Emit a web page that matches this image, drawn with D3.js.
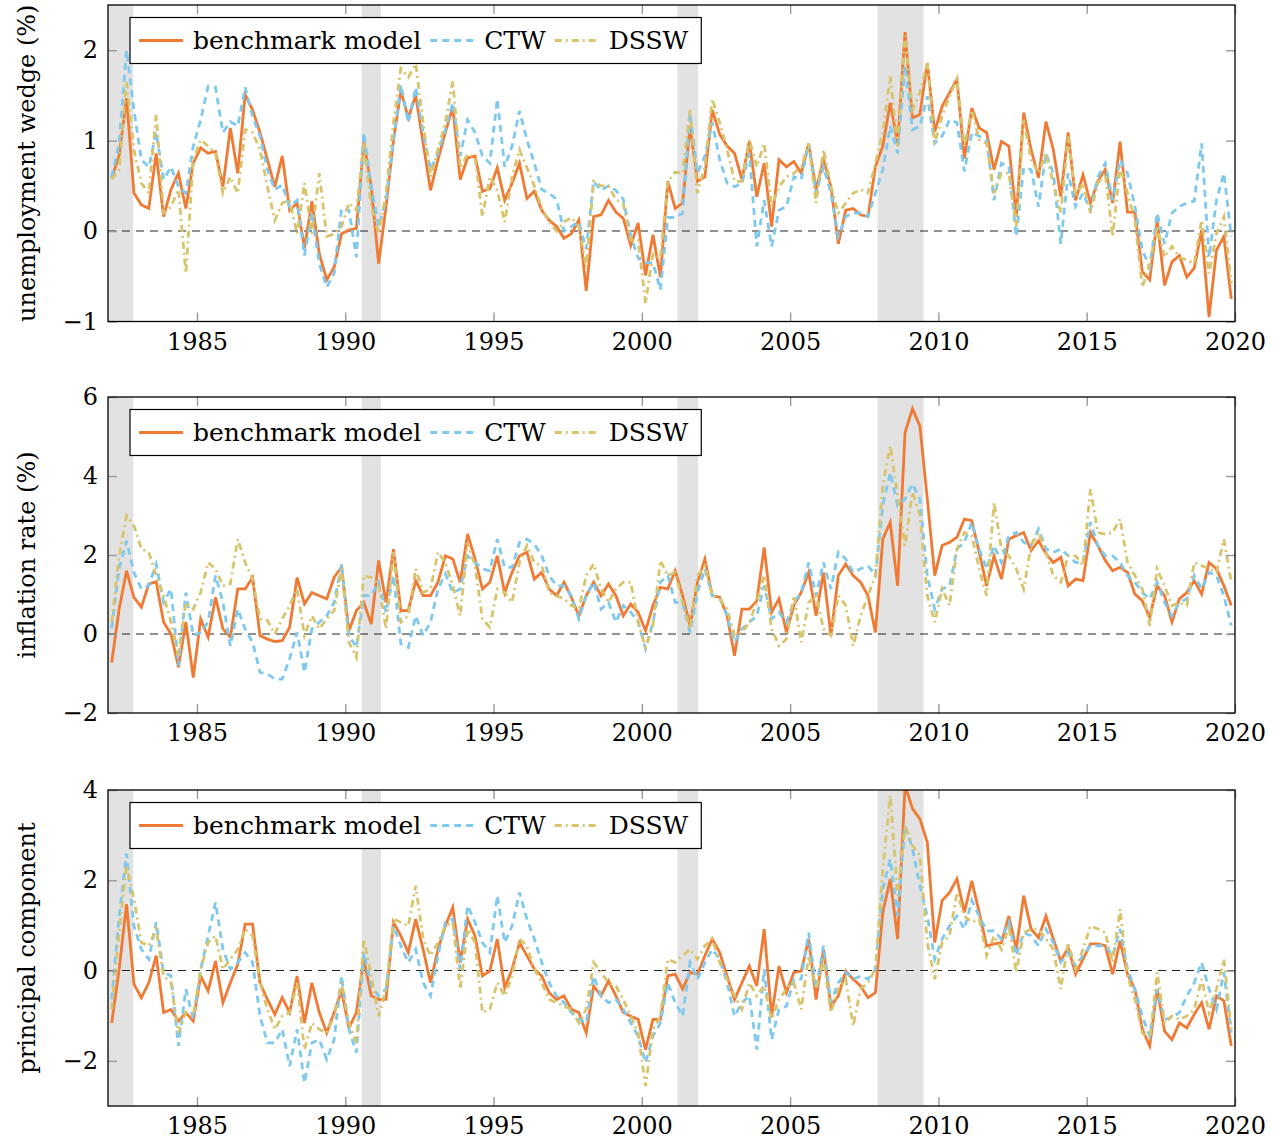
<!DOCTYPE html>
<meta charset="utf-8">
<script src="https://cdn.jsdelivr.net/npm/d3@7"></script>
<style>
  body { margin: 0; background: #fff; }
</style>
<svg></svg>
<script>
    // quarterly observations, 1982Q1 .. 2019Q4 (plotted at mid-quarter)
    var quarters = d3.range(152).map(i => 1982 + i / 4 + 0.125);
    var yearTicks = [1985, 1990, 1995, 2000, 2005, 2010, 2015, 2020];
    var recessions = [[1981.5, 1982.85], [1990.55, 1991.2], [2001.2, 2001.9], [2007.95, 2009.5]];
    var seriesNames = ['benchmark model', 'CTW', 'DSSW'];

    // unemployment wedge (%)
    var bench1 = [0.59, 0.83, 1.47, 0.42, 0.29, 0.25, 0.86, 0.16, 0.46, 0.64,
        0.25, 0.75, 0.92, 0.86, 0.88, 0.49, 1.14, 0.64, 1.51, 1.34,
        1.09, 0.79, 0.49, 0.83, 0.23, 0.31, -0.19, 0.33, -0.25, -0.54,
        -0.40, -0.03, 0.01, 0.03, 0.99, 0.49, -0.36, 0.27, 1.0, 1.55,
        1.25, 1.5, 0.97, 0.45, 0.79, 1.09, 1.37, 0.57, 0.81, 0.83,
        0.44, 0.47, 0.70, 0.34, 0.53, 0.75, 0.36, 0.44, 0.23, 0.12,
        0.05, -0.08, -0.03, 0.12, -0.66, 0.16, 0.18, 0.34, 0.21, 0.14,
        -0.16, 0.09, -0.49, -0.04, -0.51, 0.55, 0.25, 0.31, 1.16, 0.55,
        0.60, 1.34, 1.07, 0.94, 0.86, 0.57, 0.99, 0.38, 0.75, 0.05,
        0.79, 0.71, 0.77, 0.64, 0.97, 0.46, 0.79, 0.49, -0.14, 0.23,
        0.25, 0.18, 0.16, 0.71, 0.94, 1.42, 0.97, 2.2, 1.25, 1.29,
        1.86, 1.10, 1.38, 1.53, 1.68, 0.80, 1.36, 1.14, 1.09, 0.68,
        0.99, 0.94, 0.16, 1.31, 0.90, 0.59, 1.21, 0.90, 0.38, 1.09,
        0.34, 0.62, 0.31, 0.55, 0.68, 0.31, 0.99, 0.21, 0.21, -0.45,
        -0.54, 0.12, -0.60, -0.34, -0.27, -0.51, -0.41, 0.01, -0.95, -0.21, -0.06, -0.75];
    var ctw1 = [0.6, 0.97, 2.0, 1.34, 0.79, 0.71, 1.09, 0.57, 0.71, 0.49,
        0.42, 0.94, 1.23, 1.6, 1.59, 1.09, 1.21, 1.16, 1.59, 1.27,
        1.05, 0.68, 0.46, 0.51, 0.27, 0.34, -0.27, 0.2, -0.36, -0.62,
        -0.47, 0.25, 0.23, -0.29, 1.09, 0.49, 0.05, 0.34, 1.0, 1.62,
        1.2, 1.59, 1.09, 0.68, 0.86, 1.12, 1.42, 0.83, 1.23, 1.09,
        0.83, 0.75, 1.46, 0.71, 0.94, 1.33, 1.01, 0.75, 0.46, 0.42,
        0.35, 0.0, 0.05, 0.1, -0.2, 0.55, 0.45, 0.5, 0.45, 0.35,
        -0.05, -0.3, -0.35, -0.35, -0.65, 0.15, 0.15, 0.2, 1.31, 0.64,
        0.83, 1.2, 0.79, 0.53, 0.49, 0.53, 0.86, -0.17, 0.34, -0.17,
        0.23, 0.27, 0.6, 0.57, 0.97, 0.42, 0.71, 0.42, -0.06, 0.16,
        0.2, 0.2, 0.16, 0.42, 0.68, 1.16, 0.86, 1.83, 1.12, 1.16,
        1.49, 0.97, 1.05, 1.23, 1.2, 0.66, 1.09, 1.05, 1.01, 0.34,
        0.75, 0.71, -0.06, 0.7, 0.68, 0.27, 0.86, 0.64, -0.14, 0.64,
        0.27, 0.42, 0.23, 0.6, 0.75, 0.34, 0.79, 0.64, 0.27, -0.21,
        -0.4, 0.2, -0.14, 0.2, 0.27, 0.31, 0.33, 0.97, -0.29, 0.34, 0.64, -0.06];
    var dssw1 = [0.57, 0.68, 1.66, 0.9, 0.53, 0.42, 1.29, 0.2, 0.27, 0.46,
        -0.47, 0.79, 1.01, 0.94, 0.86, 0.42, 0.6, 0.42, 1.12, 1.09,
        0.9, 0.49, 0.12, 0.31, 0.34, -0.03, 0.53, -0.03, 0.64, -0.06,
        -0.03, 0.05, 0.31, 0.23, 0.97, 0.27, -0.03, 0.42, 1.2, 1.8,
        1.7, 1.85, 1.2, 0.6, 0.9, 1.2, 1.66, 0.7, 0.85, 0.82,
        0.16, 0.6, 0.45, 0.1, 0.6, 0.9, 0.7, 0.5, 0.25, 0.1,
        0.0, 0.1, 0.15, 0.05, -0.4, 0.55, 0.5, 0.5, 0.35, 0.3,
        -0.1, -0.1, -0.8, -0.25, -0.3, 0.55, 0.65, 0.64, 1.34, 0.42,
        0.71, 1.46, 1.2, 0.9, 0.55, 0.55, 1.01, 0.71, 0.97, 0.27,
        0.49, 0.6, 0.64, 0.71, 0.97, 0.31, 0.9, 0.49, 0.2, 0.31,
        0.42, 0.46, 0.42, 0.75, 1.09, 1.71, 0.94, 2.16, 1.34, 1.53,
        1.86, 0.97, 1.27, 1.49, 1.68, 0.94, 1.34, 1.01, 0.97, 0.42,
        0.64, 0.64, 0.05, 1.23, 0.79, 0.64, 0.86, 0.53, 0.2, 1.05,
        0.38, 0.53, 0.2, 0.53, 0.64, -0.06, 0.71, 0.42, 0.12, -0.62,
        -0.36, 0.05, -0.29, -0.17, -0.29, -0.32, -0.36, 0.12, -0.47, -0.03, 0.16, -0.58];

    // inflation rate (%)
    var bench2 = [-0.72, 0.63, 1.6, 0.93, 0.68, 1.27, 1.32, 0.3, 0.0, -0.84,
        0.3, -1.1, 0.38, -0.08, 0.93, 0.13, -0.08, 1.14, 1.14, 1.43,
        -0.04, -0.13, -0.19, -0.17, 0.17, 1.43, 0.76, 1.05, 0.97, 0.89,
        1.43, 1.69, 0.08, 0.59, 0.8, 0.25, 1.86, 0.8, 2.15, 0.59,
        0.59, 1.35, 0.97, 0.97, 1.31, 1.98, 1.9, 1.31, 2.53, 1.9,
        1.14, 1.31, 1.98, 1.05, 1.56, 1.98, 2.07, 1.39, 1.56, 1.14,
        0.97, 1.31, 0.93, 0.46, 0.97, 1.31, 0.97, 1.27, 0.97, 0.46,
        0.76, 0.55, 0.08, 0.72, 1.18, 1.14, 1.6, 0.97, 0.21, 1.31,
        1.9, 0.97, 0.93, 0.46, -0.55, 0.63, 0.63, 0.84, 2.19, 0.55,
        0.89, 0.04, 0.72, 1.05, 1.56, 0.46, 1.56, -0.04, 1.48, 1.77,
        1.48, 1.31, 0.97, 0.04, 2.4, 2.83, 1.22, 5.1, 5.7, 5.27,
        3.42, 1.48, 2.24, 2.32, 2.45, 2.91, 2.87, 2.07, 1.22, 1.98,
        1.39, 2.4, 2.49, 2.57, 2.11, 2.36, 2.03, 1.81, 1.94, 1.22,
        1.39, 1.35, 2.57, 2.24, 1.86, 1.6, 1.69, 1.56, 1.01, 0.84,
        0.42, 1.22, 0.97, 0.3, 0.89, 1.05, 1.35, 1.01, 1.81, 1.65, 1.22, 0.72];
    var ctw2 = [0.15, 1.65, 2.36, 1.56, 1.14, 1.22, 1.77, 0.8, 1.14, -0.8,
        1.05, -0.04, 0.04, 0.3, 1.48, 0.8, -0.3, 0.63, 0.13, -0.21,
        -0.97, -1.01, -1.14, -1.14, -0.63, 0.04, -0.97, 0.13, 0.3, 0.46,
        0.8, 1.77, -0.04, -0.34, 0.97, 0.97, 1.31, 0.55, 1.48, -0.25,
        -0.34, 0.46, -0.04, 0.3, 1.14, 1.52, 1.05, 1.14, 1.98, 1.81,
        1.65, 1.6, 2.4, 1.69, 1.69, 2.32, 2.4, 2.28, 1.98, 1.48,
        1.22, 1.22, 0.97, 0.38, 0.97, 1.31, 0.63, 0.8, 0.3, 0.72,
        0.55, 0.3, -0.38, 0.3, 1.31, 1.48, 0.8, 0.8, 0.04, 1.05,
        1.65, 0.97, 0.93, 0.46, -0.21, 0.13, 0.3, 0.46, 1.22, 0.38,
        0.55, 0.3, 0.8, 1.05, 1.81, 0.97, 1.81, 1.14, 2.07, 1.9,
        1.56, 1.65, 1.73, 1.48, 3.25, 4.09, 3.25, 3.42, 3.8, 3.42,
        1.48, 0.63, 1.14, 1.22, 2.15, 2.32, 2.83, 2.15, 1.65, 2.24,
        1.81, 2.49, 2.57, 2.32, 2.24, 2.66, 2.15, 2.07, 2.15, 1.98,
        1.81, 1.81, 2.83, 2.24, 1.98, 1.98, 1.81, 1.48, 1.31, 1.05,
        0.89, 1.31, 0.8, 0.46, 0.8, 0.89, 1.48, 1.14, 1.56, 1.48, 0.97, 0.21];
    var dssw2 = [0.3, 1.98, 3.0, 2.74, 2.15, 2.07, 1.48, 0.97, 0.3, -0.55,
        0.8, 0.63, 1.05, 1.81, 1.65, 1.22, 1.27, 2.4, 1.81, 1.39,
        0.38, 0.34, 0.0, 0.38, 0.72, 1.14, -0.04, 0.46, 0.13, 0.38,
        0.59, 1.65, -0.21, -0.59, 1.48, 1.43, 1.27, 0.13, 2.07, 0.3,
        0.46, 1.65, 1.05, 1.14, 2.07, 1.81, 1.22, 0.46, 2.32, 1.73,
        0.38, 0.17, 1.14, 1.05, 0.8, 1.81, 2.24, 1.81, 1.73, 1.05,
        0.97, 0.89, 0.72, 0.63, 1.48, 1.77, 1.14, 0.8, 1.14, 1.31,
        1.31, 0.3, -0.34, 0.21, 1.86, 1.48, 1.56, 0.8, 0.13, 1.48,
        1.73, 0.97, 0.89, 0.63, -0.04, 0.04, 0.3, 0.8, 1.48, 0.13,
        -0.3, -0.13, 0.97, -0.21, 0.8, 0.97, 0.13, -0.04, 0.97, 0.72,
        -0.3, 0.46, 0.97, 1.48, 3.76, 4.77, 3.5, 2.24, 3.59, 3.0,
        0.97, 0.3, 1.14, 0.72, 2.15, 2.57, 2.49, 1.65, 0.97, 3.33,
        2.15, 1.98, 1.65, 1.14, 2.24, 2.57, 2.07, 1.48, 1.31, 1.98,
        1.98, 1.73, 3.67, 2.57, 2.53, 2.57, 2.91, 1.81, 1.48, 1.14,
        0.21, 1.65, 1.22, 0.72, 0.8, 0.72, 1.81, 1.73, 1.65, 1.56, 2.4, 1.31];

    // principal component
    var bench3 = [-1.16, 0.03, 1.47, -0.3, -0.6, -0.27, 0.33, -0.93, -0.86, -1.12,
        -0.93, -1.12, -0.12, -0.45, 0.21, -0.71, -0.27, 0.14, 1.03, 1.03,
        -0.27, -0.64, -0.97, -0.6, -0.93, -0.12, -1.16, -0.27, -0.93, -1.38,
        -0.93, -0.45, -1.27, -0.93, 0.25, -0.56, -0.64, -0.64, 1.07, 0.77,
        0.4, 1.14, 0.47, -0.27, 0.47, 0.99, 1.4, 0.18, 1.14, 0.77,
        -0.12, -0.01, 0.7, -0.38, 0.03, 0.62, 0.33, 0.03, -0.12, -0.49,
        -0.64, -0.56, -0.86, -0.93, -1.38, -0.34, -0.56, -0.23, -0.56, -0.93,
        -1.01, -1.08, -1.75, -1.08, -1.08, -0.12, -0.08, -0.41, -0.04, -0.08,
        0.33, 0.7, 0.4, -0.12, -0.64, -0.27, 0.1, -0.34, 0.92, -1.01,
        0.1, -0.49, -0.04, -0.01, 0.7, -0.64, 0.47, -0.79, -0.56, -0.01,
        -0.19, -0.34, -0.6, -0.49, 1.29, 2.03, 0.7, 4.1, 3.59, 3.36,
        2.84, 0.62, 1.55, 1.73, 2.03, 1.29, 1.99, 1.29, 0.55, 0.59,
        0.62, 1.21, 0.47, 1.66, 0.92, 0.73, 1.21, 0.7, 0.21, 0.51,
        -0.08, 0.25, 0.59, 0.59, 0.55, -0.08, 0.66, -0.08, -0.41, -1.3,
        -1.67, -0.41, -1.34, -1.53, -1.16, -1.27, -0.97, -0.71, -1.3, -0.56, -0.67, -1.67];
    var ctw3 = [-0.64, 1.21, 2.59, 0.99, 0.47, 0.25, 1.07, -0.04, -0.12, -1.67,
        -0.41, -1.08, 0.03, 0.77, 1.51, 0.47, 0.03, 0.18, 0.4, 0.18,
        -1.01, -1.6, -1.6, -1.3, -2.12, -1.3, -2.49, -1.6, -1.53, -1.97,
        -1.53, -0.12, -1.3, -1.82, 0.4, -0.34, -0.56, -0.41, 0.99, 0.55,
        0.18, 0.47, -0.27, -0.56, 0.33, 1.07, 1.14, 0.03, 1.44, 1.07,
        0.62, 0.4, 1.66, 0.62, 0.99, 1.73, 1.14, 0.7, 0.18, -0.27,
        -0.56, -0.71, -0.93, -1.08, -1.16, -0.12, -0.56, -0.71, -0.64, -0.86,
        -1.16, -1.45, -2.04, -1.45, -1.16, -0.27, -0.71, -1.01, 0.18, -0.19,
        0.18, 0.47, 0.25, -0.27, -1.01, -0.71, -0.56, -1.75, 0.03, -1.53,
        -0.86, -0.79, -0.19, -0.19, 0.84, -0.41, 0.55, -0.71, -0.27, -0.04,
        -0.19, -0.12, -0.19, 0.03, 1.81, 2.47, 1.21, 3.21, 2.7, 1.88,
        1.21, 0.25, 0.7, 0.99, 1.21, 0.92, 1.55, 1.21, 0.88, 0.88,
        0.7, 1.07, 0.33, 0.84, 0.77, 0.55, 0.92, 0.62, 0.18, 0.4,
        0.1, 0.33, 0.55, 0.55, 0.55, 0.33, 0.92, 0.03, -0.41, -1.01,
        -1.45, -0.41, -1.08, -1.04, -0.93, -0.56, -0.27, 0.18, -0.41, -0.86, -0.04, -1.38];
    var dssw3 = [-0.86, 0.84, 2.33, 1.59, 0.62, 0.55, 0.92, -0.12, -0.27, -1.38,
        -0.93, -1.01, 0.03, 0.62, 0.77, 0.03, 0.25, 0.47, 0.92, 0.77,
        -0.27, -0.86, -1.3, -1.01, -0.93, -0.27, -1.75, -1.16, -1.3, -1.38,
        -1.01, -0.27, -1.16, -1.6, 0.7, -0.12, -1.01, -0.41, 1.14, 1.07,
        0.99, 1.88, 0.7, 0.33, 0.62, 0.99, 1.07, -0.41, 0.92, 0.62,
        -0.93, -0.86, -0.27, -0.56, -0.12, 0.7, 0.55, 0.03, -0.27, -0.64,
        -0.71, -0.79, -0.86, -1.16, -0.86, 0.18, -0.04, -0.27, -0.34, -0.64,
        -1.01, -1.38, -2.56, -1.3, -1.01, 0.25, 0.18, 0.33, 0.47, 0.25,
        0.55, 0.7, 0.18, -0.19, -0.56, -0.86, -0.27, -0.56, -0.34, -1.08,
        -0.64, -0.41, -0.27, -0.86, 0.33, -0.41, 0.25, -0.93, -0.41, -0.19,
        -1.23, -0.41, -0.27, 0.03, 2.25, 3.88, 1.66, 3.21, 2.77, 2.55,
        0.62, -0.19, 0.62, 0.77, 1.73, 1.21, 1.07, 1.14, 0.33, 0.77,
        0.47, 0.99, -0.04, 0.84, 0.92, 0.92, 0.7, 0.47, -0.41, 0.62,
        0.03, 0.47, 0.99, 0.92, 0.84, 0.18, 1.36, -0.12, -0.64, -1.38,
        -1.53, -0.04, -1.16, -1.01, -1.08, -1.01, -0.86, -0.19, -0.93, -0.41, 0.25, -1.3];

    var panels = [
        { title: 'unemployment wedge (%)', domain: [-1, 2.5], ticks: [-1, 0, 1, 2], top: 5, bottom: 321.5, data: [bench1, ctw1, dssw1] },
        { title: 'inflation rate (%)', domain: [-2, 6], ticks: [-2, 0, 2, 4, 6], top: 397, bottom: 713, data: [bench2, ctw2, dssw2] },
        { title: 'principal component', domain: [-3, 4], ticks: [-2, 0, 2, 4], top: 790, bottom: 1106, data: [bench3, ctw3, dssw3] }
    ];

    var styles = [
        { color: '#f07a34', dash: null },
        { color: '#7fc9ee', dash: '7,5' },
        { color: '#d8c46c', dash: '7,4,2,4' }
    ];
    var font = '"DejaVu Serif", serif';
    var fontSize = 24;

    var svg = d3.select('svg').attr('width', 1283).attr('height', 1146);
    var left = 108, right = 1235;
    var x = d3.scaleLinear().domain([1982, 2020]).range([left, right]);

    panels.forEach(function (p, k) {
        var y = d3.scaleLinear().domain(p.domain).range([p.bottom, p.top]);
        var g = svg.append('g');

        g.append('clipPath').attr('id', 'clip' + k)
            .append('rect')
            .attr('x', left).attr('y', p.top)
            .attr('width', right - left).attr('height', p.bottom - p.top);

        var plot = g.append('g').attr('clip-path', 'url(#clip' + k + ')');

        plot.selectAll('rect.rec').data(recessions).enter().append('rect')
            .attr('class', 'rec')
            .attr('x', d => x(Math.max(d[0], 1982)))
            .attr('width', d => x(Math.min(d[1], 2020)) - x(Math.max(d[0], 1982)))
            .attr('y', p.top)
            .attr('height', p.bottom - p.top)
            .attr('fill', '#e2e2e2');

        plot.append('line')
            .attr('x1', left).attr('x2', right)
            .attr('y1', y(0)).attr('y2', y(0))
            .attr('stroke', '#222').attr('stroke-width', 1.1)
            .attr('stroke-dasharray', '8,6');

        var line = d3.line()
            .x((d, i) => x(quarters[i]))
            .y(d => y(d));

        p.data.forEach(function (series, s) {
            plot.append('path')
                .attr('d', line(series))
                .attr('fill', 'none')
                .attr('stroke', styles[s].color)
                .attr('stroke-width', 2.8)
                .attr('stroke-linejoin', 'miter')
                .attr('stroke-dasharray', styles[s].dash);
        });

        // axes, ticks pointing inward on all four sides
        function styleAxis(a) {
            a.select('.domain').remove();
            a.selectAll('.tick line').attr('stroke', '#9a9a9a').attr('stroke-width', 1.4);
            a.attr('font-size', fontSize).attr('font-family', font);
            a.selectAll('text').attr('fill', '#000');
        }
        g.append('g').attr('transform', 'translate(0,' + p.bottom + ')')
            .call(d3.axisBottom(x).tickValues(yearTicks).tickFormat(d3.format('d')).tickSize(-9).tickPadding(11))
            .call(styleAxis);
        g.append('g').attr('transform', 'translate(0,' + p.top + ')')
            .call(d3.axisTop(x).tickValues(yearTicks).tickFormat('').tickSize(-9))
            .call(styleAxis);
        g.append('g').attr('transform', 'translate(' + left + ',0)')
            .call(d3.axisLeft(y).tickValues(p.ticks).tickFormat(d3.format('d')).tickSize(-9).tickPadding(10))
            .call(styleAxis);
        g.append('g').attr('transform', 'translate(' + right + ',0)')
            .call(d3.axisRight(y).tickValues(p.ticks).tickFormat('').tickSize(-9))
            .call(styleAxis);

        g.append('rect')
            .attr('x', left).attr('y', p.top)
            .attr('width', right - left).attr('height', p.bottom - p.top)
            .attr('fill', 'none').attr('stroke', '#000').attr('stroke-width', 1.3);

        // y title
        g.append('text')
            .attr('transform', 'translate(27,' + (p.top + p.bottom) / 2 + ') rotate(-90)')
            .attr('text-anchor', 'middle')
            .attr('dominant-baseline', 'central')
            .attr('font-family', font).attr('font-size', fontSize)
            .text(p.title);

        // legend
        var lg = g.append('g').attr('transform', 'translate(130,' + (p.top + 12.5) + ')');
        var box = lg.append('rect').attr('height', 46)
            .attr('fill', '#fff').attr('stroke', '#000').attr('stroke-width', 1.2);
        var cx = 9, cy = 23;
        seriesNames.forEach(function (name, s) {
            lg.append('line')
                .attr('x1', cx).attr('x2', cx + 44)
                .attr('y1', cy).attr('y2', cy)
                .attr('stroke', styles[s].color).attr('stroke-width', 2.8)
                .attr('stroke-dasharray', styles[s].dash);
            var t = lg.append('text')
                .attr('x', cx + 54).attr('y', cy + 8)
                .attr('font-family', font).attr('font-size', 25)
                .text(name);
            cx += 54 + t.node().getComputedTextLength() + 9;
        });
        box.attr('width', cx + 4);
    });
</script>
